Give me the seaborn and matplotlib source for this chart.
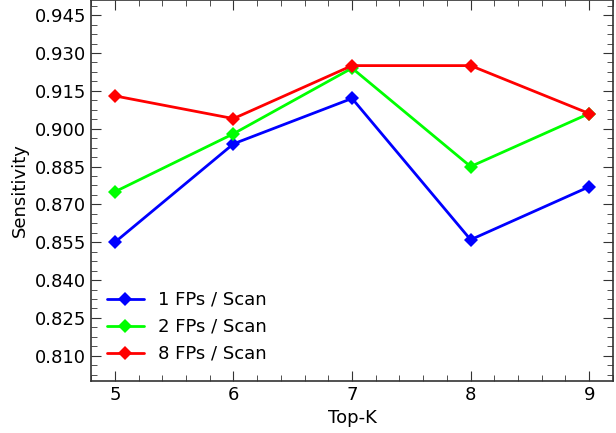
import matplotlib
matplotlib.use("Agg")
import matplotlib.pyplot as plt
from matplotlib.ticker import AutoMinorLocator, MultipleLocator
import pandas as pd
import seaborn as sns

top_k = [5, 6, 7, 8, 9]
fp1 = [0.855, 0.894, 0.912, 0.856, 0.877]
fp2 = [0.875, 0.898, 0.924, 0.885, 0.906]
fp8 = [0.913, 0.904, 0.925, 0.925, 0.906]
labels = ["1 FPs / Scan", "2 FPs / Scan", "8 FPs / Scan"]
colores = ["#0000ff", "#00ff00", "#ff0000"]

df = pd.DataFrame({"Top-K": top_k * 3,
                   "Sensitivity": fp1 + fp2 + fp8,
                   "serie": [labels[0]] * 5 + [labels[1]] * 5 + [labels[2]] * 5})

sns.set_style("ticks", {"text.color": "black", "axes.labelcolor": "black",
                        "xtick.color": "black", "ytick.color": "black"})
plt.rcParams["font.family"] = ["DejaVu Sans"]

fig = plt.figure(figsize=(6.16, 4.33), dpi=100)
ax = fig.add_axes([0.148, 0.12, 0.847, 0.88])

sns.lineplot(data=df, x="Top-K", y="Sensitivity", hue="serie", palette=colores,
             marker="D", markersize=7, markeredgewidth=0, linewidth=2, ax=ax)

ax.set_xlim(4.8, 9.2)
ax.set_ylim(0.80, 0.951)
ax.xaxis.set_major_locator(MultipleLocator(1))
ax.set_yticks([0.810 + 0.015 * i for i in range(10)])
ax.yaxis.set_major_formatter(matplotlib.ticker.FormatStrFormatter("%.3f"))
ax.xaxis.set_minor_locator(AutoMinorLocator(5))
ax.yaxis.set_minor_locator(AutoMinorLocator(4))
ax.tick_params(which="both", direction="in", top=True, right=True, labelsize=13,
               colors="#333333", labelcolor="black")
ax.tick_params(which="major", length=7)
ax.tick_params(which="minor", length=4)
for s in ax.spines.values():
    s.set_linewidth(1.2)
    s.set_color("#333333")

ax.set_xlabel("Top-K", fontsize=13, color="black")
ax.set_ylabel("Sensitivity", fontsize=13, color="black")
ax.legend(loc="lower left", frameon=False, fontsize=13, bbox_to_anchor=(0.0, 0.005))

fig.savefig("out.png", dpi=100)
